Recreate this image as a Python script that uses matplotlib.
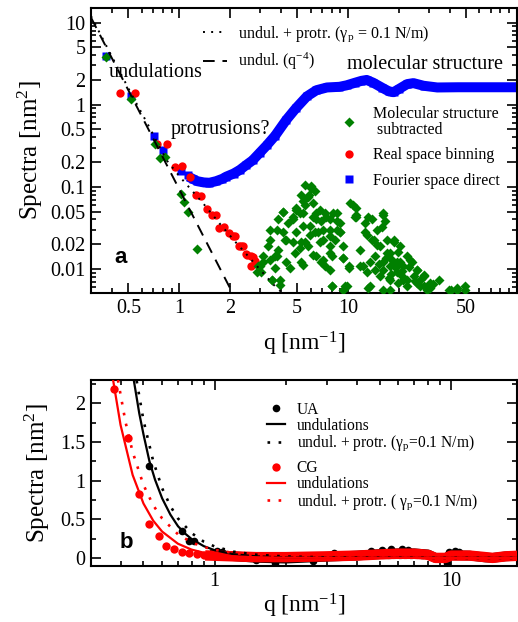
import matplotlib
matplotlib.use('Agg')
import matplotlib.pyplot as plt
from matplotlib.ticker import FixedLocator, NullFormatter, FixedFormatter
from matplotlib.lines import Line2D

plt.rcParams['font.family'] = ['Liberation Serif', 'DejaVu Serif']
plt.rcParams['mathtext.fontset'] = 'custom'
plt.rcParams['mathtext.rm'] = 'Liberation Serif'
plt.rcParams['mathtext.it'] = 'Liberation Serif:italic'
plt.rcParams['mathtext.bf'] = 'Liberation Serif:bold'

# ---------------- panel a data ----------------
# Fourier space direct (blue squares)
fourier_q = [0.37, 0.52, 0.71, 0.80, 1.02, 1.12, 1.2, 1.28, 1.4, 1.51, 1.65, 1.8, 1.9,
             2.1, 2.28, 2.5, 2.72, 3.0, 3.3, 3.7, 4.3, 4.9, 5.7, 6.5, 7.5, 8.9, 9.8,
             11.0, 12.0, 12.9, 14.1, 16.0, 17.5, 18.6, 20.0, 22.4, 24.4, 28.0, 33.8,
             45.0, 60.0, 80.0, 100.0]
fourier_s = [3.9, 1.26, 0.41, 0.28, 0.154, 0.14, 0.125, 0.117, 0.113, 0.112, 0.117,
             0.125, 0.133, 0.145, 0.16, 0.185, 0.21, 0.26, 0.32, 0.42, 0.65, 0.9, 1.26,
             1.5, 1.62, 1.65, 1.72, 1.85, 1.95, 2.0, 1.85, 1.6, 1.45, 1.42, 1.55, 1.78,
             1.83, 1.7, 1.62, 1.63, 1.63, 1.63, 1.63]

# real space binning (red circles)
binning_q = [0.446, 0.547, 0.743, 0.845, 0.946, 1.04, 1.15, 1.26, 1.35, 1.46, 1.56,
             1.65, 1.73, 1.85, 1.98, 2.08, 2.13, 2.25, 2.33, 2.38, 2.49, 2.52, 2.67,
             2.73, 2.8, 2.67]
binning_s = [1.38, 1.4, 0.334, 0.334, 0.174, 0.18, 0.13, 0.080, 0.077, 0.054, 0.046,
             0.045, 0.0316, 0.032, 0.0274, 0.025, 0.0254, 0.0192, 0.019, 0.019, 0.015,
             0.0149, 0.0145, 0.014, 0.0124, 0.0108]

# molecular structure subtracted (green diamonds)
subtr_q = [0.37, 0.52, 0.717, 0.77, 0.82, 1.02, 1.07, 1.12, 1.27, 2.9,
           5.55, 6.05, 5.9, 5.4, 6.36, 4.95, 5.18, 4.12, 4.72, 5.4, 6.2, 6.5, 6.95, 7.45,
           8.2, 8.55, 7.8, 6.65, 7.1, 5.95, 5.55, 5.18, 4.84, 4.3, 4.12, 3.77, 3.43, 3.35,
           3.68, 3.13, 2.99, 4.3, 5.3, 6.5, 7.8, 8.37, 8.96, 6.95, 7.8, 9.4, 10.3, 11.2,
           11.2, 13.2, 12.6, 13.8, 14.8, 16.2, 16.6, 15.5, 17.0, 18.2, 19.5, 21.3, 23.4,
           25.7, 28.0, 30.8, 17.8, 19.5, 21.3, 22.4, 24.5, 26.8, 18.6, 20.4, 14.5, 12.9,
           11.8, 13.5, 9.8, 8.0, 40.5, 44.0, 49.5, 29.5, 16.2, 9.4, 3.52, 3.94, 16.2, 17.8,
           11.0, 12.6, 13.8, 12.9, 15.8, 16.2, 14.2, 14.8, 17.0, 18.6, 17.8, 19.9, 11.8,
           12.3, 13.5, 14.5, 16.2, 18.6, 20.4, 22.4, 24.0, 25.7, 28.0, 34.5, 15.5, 17.4,
           19.9, 22.4, 25.7, 28.0, 30.8, 9.4, 10.1, 8.96, 8.96, 13.2, 17.8, 39.5, 44.0,
           49.5,
           6.05, 5.8, 5.3, 5.55, 6.2, 4.95, 4.72, 5.4, 4.12, 3.86, 4.4, 6.81, 7.3, 7.8,
           8.55, 6.5, 5.94, 6.36, 7.1, 7.8, 8.55, 4.95, 4.72, 5.3, 5.8, 6.81, 7.8, 6.2,
           7.1, 8.0, 9.4, 4.22, 3.43, 3.86, 3.77, 3.43, 3.13, 4.52, 3.68, 2.92, 3.06,
           3.52, 3.94, 5.4, 7.3, 10.1, 8.0, 9.6, 10.7, 11.2,
           16.8, 19.2, 21.0, 23.0, 15.2, 18.0, 20.8, 24.8, 27.0, 32.0]
subtr_s = [3.8, 1.17, 0.334, 0.226, 0.23, 0.082, 0.066, 0.05, 0.0175, 0.0093,
           0.106, 0.097, 0.080, 0.067, 0.088, 0.055, 0.048, 0.050, 0.040, 0.033, 0.043,
           0.048, 0.038, 0.043, 0.048, 0.038, 0.030, 0.028, 0.0227, 0.026, 0.0215, 0.018,
           0.0155, 0.0227, 0.028, 0.030, 0.030, 0.019, 0.0142, 0.0142, 0.011, 0.012,
           0.012, 0.0142, 0.0155, 0.0227, 0.028, 0.012, 0.0098, 0.019, 0.063, 0.055,
           0.043, 0.043, 0.028, 0.0227, 0.030, 0.048, 0.038, 0.019, 0.0155, 0.0129,
           0.012, 0.011, 0.0129, 0.0098, 0.0082, 0.0068, 0.011, 0.0092, 0.0074, 0.0062,
           0.0082, 0.0062, 0.0227, 0.019, 0.0142, 0.0092, 0.011, 0.0062, 0.0062, 0.0062,
           0.0056, 0.0058, 0.0062, 0.0056, 0.0056, 0.0056, 0.0074, 0.0064, 0.0098, 0.0074,
           0.043, 0.036, 0.041, 0.026, 0.032, 0.046, 0.0227, 0.0197, 0.0227, 0.021,
           0.0155, 0.016, 0.0171, 0.011, 0.012, 0.0098, 0.0122, 0.011, 0.0122, 0.0142,
           0.012, 0.0098, 0.0085, 0.0074, 0.0082, 0.0078, 0.0068, 0.0074, 0.0068, 0.0062,
           0.0058, 0.0135, 0.0104, 0.036, 0.028, 0.0058, 0.0056, 0.0056, 0.0056, 0.0056,
           0.101, 0.076, 0.080, 0.0605, 0.063, 0.0526, 0.043, 0.048, 0.050, 0.040, 0.036,
           0.0526, 0.048, 0.040, 0.048, 0.040, 0.033, 0.028, 0.030, 0.025, 0.030, 0.028,
           0.0215, 0.021, 0.019, 0.0215, 0.019, 0.0149, 0.0129, 0.0142, 0.0135, 0.0227,
           0.0227, 0.0171, 0.0142, 0.0129, 0.0122, 0.0104, 0.0104, 0.011, 0.0092, 0.0074,
           0.0074, 0.0113, 0.011, 0.011, 0.0062, 0.0062, 0.0605, 0.046,
           0.0135, 0.0105, 0.0095, 0.0105, 0.0115, 0.0088, 0.0082, 0.0072, 0.0075, 0.0065]

# theory lines, panel a
protr_q = [0.3, 0.4, 0.525, 0.65, 0.837, 1.0, 1.2, 1.38, 1.73, 2.17, 2.6, 3.0, 3.6, 4.0]
protr_s = [12.0, 3.8, 1.3, 0.58, 0.214, 0.135, 0.088, 0.0635, 0.036, 0.0209, 0.0138,
           0.0099, 0.0065, 0.0053]
undul_q = [0.3, 2.1]
undul_s = [11.5, 0.0048]

# ---------------- panel b data ----------------
ua_q = [0.529, 0.725, 0.778, 0.822, 1.02, 1.08, 1.8, 4.6, 5.1, 5.6, 6.2, 6.6, 9.8, 10.4,
        10.8, 19.0, 1.5, 9.6, 3.2, 2.6]
ua_s = [1.19, 0.346, 0.22, 0.22, 0.087, 0.078, -0.06, 0.085, 0.1, 0.11, 0.12, 0.1, 0.08,
        0.09, 0.08, 0.05, -0.03, -0.07, 0.06, -0.04]
ua_band_q = [1.0, 1.5, 2.0, 3.0, 4.0, 5.0, 6.0, 7.0, 8.0, 8.6, 9.5, 10.0, 12.0, 14.0,
             15.0, 17.0, 20.0]
ua_band_s = [0.04, 0.0, -0.01, 0.015, 0.03, 0.05, 0.06, 0.06, 0.045, 0.0, 0.0, 0.035,
             0.03, 0.005, 0.0, 0.02, 0.03]

cg_q = [0.377, 0.429, 0.477, 0.529, 0.582, 0.625, 0.673, 0.73, 0.778, 0.844, 0.9, 0.96]
cg_s = [2.19, 1.55, 0.83, 0.44, 0.28, 0.15, 0.11, 0.078, 0.057, 0.048, 0.035, 0.035]
cg_band_q = [0.96, 1.2, 1.5, 2.0, 3.0, 4.0, 5.0, 6.0, 7.0, 8.0, 8.6, 9.5, 10.0, 12.0,
             14.0, 15.0, 17.0, 20.0]
cg_band_s = [0.03, 0.02, 0.01, 0.01, 0.02, 0.03, 0.045, 0.055, 0.055, 0.04, 0.0, 0.0,
             0.03, 0.03, 0.01, 0.0, 0.02, 0.03]

ua_und_q = [0.455, 0.48, 0.5, 0.53, 0.56, 0.6, 0.65, 0.7, 0.75, 0.8, 0.9, 1.0, 1.2, 1.5,
            2.0, 3.0, 5.0, 10.0, 20.0]
ua_und_s = [2.3, 1.87, 1.6, 1.25, 1.01, 0.77, 0.56, 0.41, 0.315, 0.243, 0.152, 0.1,
            0.048, 0.02, 0.006, 0.0012, 0.0002, 0.0, 0.0]
ua_pro_q = [0.468, 0.5, 0.55, 0.6, 0.65, 0.7, 0.8, 0.9, 1.0, 1.2, 1.5, 2.0, 3.0, 5.0,
            10.0, 20.0]
ua_pro_s = [2.29, 1.78, 1.25, 0.90, 0.67, 0.51, 0.32, 0.21, 0.148, 0.081, 0.041, 0.018,
            0.0065, 0.002, 0.0005, 0.0001]
cg_und_q = [0.372, 0.4, 0.45, 0.5, 0.55, 0.6, 0.7, 0.8, 0.9, 1.0, 1.2, 1.5, 2.0, 3.0,
            5.0, 10.0, 20.0]
cg_und_s = [2.3, 1.72, 1.073, 0.704, 0.481, 0.34, 0.183, 0.107, 0.067, 0.044, 0.0212,
            0.0087, 0.0028, 0.0005, 0.0, 0.0, 0.0]
cg_pro_q = [0.39, 0.42, 0.45, 0.5, 0.55, 0.6, 0.7, 0.8, 0.9, 1.0, 1.2, 1.5, 2.0, 3.0,
            5.0, 10.0, 20.0]
cg_pro_s = [2.3, 1.755, 1.37, 0.944, 0.68, 0.51, 0.305, 0.20, 0.141, 0.104, 0.063,
            0.035, 0.018, 0.007, 0.0024, 0.0006, 0.0002]

GREEN = '#008000'
DOT = (0, (1, 3.2))

fig = plt.figure(figsize=(5.18, 6.22), dpi=100)
ax1 = fig.add_axes([0.1757, 0.529, 0.822, 0.458])
ax2 = fig.add_axes([0.1757, 0.090, 0.822, 0.299])

# ---------------- panel a ----------------
ax1.plot(fourier_q[6:], fourier_s[6:], '-', color='blue', lw=7.2,
         solid_joinstyle='round', zorder=2)
ax1.plot(fourier_q, fourier_s, 's', color='blue', ms=5.8, mec='none', zorder=2)
ax1.plot(binning_q, binning_s, 'o', color='red', ms=6.0, mec='none', zorder=3)
ax1.plot(subtr_q, subtr_s, 'D', color=GREEN, ms=5.0, mec='none', zorder=4)
ax1.plot(protr_q, protr_s, color='black', lw=1.4, ls=DOT, zorder=5)
ax1.plot(undul_q, undul_s, color='black', lw=1.4, ls=(0, (6, 4)), zorder=5)

ax1.set_xscale('log')
ax1.set_yscale('log')
ax1.set_xlim(0.3, 100)
ax1.set_ylim(0.0051, 15)

ax1.xaxis.set_major_locator(FixedLocator([0.5, 1, 2, 5, 10, 50]))
ax1.xaxis.set_major_formatter(FixedFormatter(['0.5', '1', '2', '5', '10', '50']))
xminor = [0.3, 0.4, 0.6, 0.7, 0.8, 0.9, 3, 4, 6, 7, 8, 9, 20, 30, 40, 60, 70, 80, 90]
ax1.xaxis.set_minor_locator(FixedLocator(xminor))
ax1.xaxis.set_minor_formatter(NullFormatter())
ymaj = [0.01, 0.02, 0.05, 0.1, 0.2, 0.5, 1, 2, 5, 10]
ax1.yaxis.set_major_locator(FixedLocator(ymaj))
ax1.yaxis.set_major_formatter(FixedFormatter(['0.01', '0.02', '0.05', '0.1', '0.2',
                                              '0.5', '1', '2', '5', '10']))
yminor = [0.006, 0.007, 0.008, 0.009, 0.03, 0.04, 0.06, 0.07, 0.08, 0.09, 0.3, 0.4,
          0.6, 0.7, 0.8, 0.9, 3, 4, 6, 7, 8, 9]
ax1.yaxis.set_minor_locator(FixedLocator(yminor))
ax1.yaxis.set_minor_formatter(NullFormatter())

ax1.set_xlabel('q [nm$^{-1}$]', fontsize=17, labelpad=9)
ax1.set_ylabel('Spectra [nm$^2$]', fontsize=18, labelpad=4)

ax1.text(0.383, 2.44, 'undulations', fontsize=14.5, va='center', ha='left', zorder=6)
ax1.text(0.884, 0.495, 'protrusions?', fontsize=14.5, va='center', ha='left', zorder=6)
ax1.text(28.7, 3.06, 'molecular structure', fontsize=14.5, va='center', ha='center',
         zorder=6)
ax1.text(0.056, 0.123, 'a', transform=ax1.transAxes, fontsize=16, fontweight='bold',
         family='Liberation Sans', va='center', ha='left')

h_protr = Line2D([], [], color='black', lw=1.4, ls=DOT)
h_undul = Line2D([], [], color='black', lw=1.4, ls=(0, (6, 4)))
leg1 = ax1.legend([h_protr, h_undul],
                  ['undul. + protr. (γ$_\\mathregular{p}$ = 0.1 N/m)',
                   'undul. (q$^{-4}$)'],
                  loc='upper left', bbox_to_anchor=(0.263, 0.944), frameon=False,
                  fontsize=11.5, handlelength=1.5, handletextpad=0.7,
                  labelspacing=0.45, borderpad=0, borderaxespad=0)
ax1.add_artist(leg1)

h_sub = Line2D([], [], color=GREEN, marker='D', ms=5.0, ls='none', mec='none')
h_bin = Line2D([], [], color='red', marker='o', ms=6.0, ls='none', mec='none')
h_fou = Line2D([], [], color='blue', marker='s', ms=5.8, ls='none', mec='none')
leg2 = ax1.legend([h_sub, h_bin, h_fou],
                  ['Molecular structure\n subtracted', 'Real space binning',
                   'Fourier space direct'],
                  loc='upper left', bbox_to_anchor=(0.587, 0.655), frameon=False,
                  fontsize=11.5, handlelength=1.0, handletextpad=1.0,
                  labelspacing=0.6, borderpad=0, borderaxespad=0)
leg2.get_texts()[0].set_linespacing(0.95)

# ---------------- panel b ----------------
ax2.plot(ua_band_q, ua_band_s, '-', color='black', lw=7.0, solid_joinstyle='round',
         zorder=2)
ax2.plot(ua_q, ua_s, 'o', color='black', ms=5.5, mec='none', zorder=2)
ax2.plot(cg_band_q, cg_band_s, '-', color='red', lw=7.5, solid_joinstyle='round',
         zorder=3)
ax2.plot(cg_q, cg_s, 'o', color='red', ms=6.0, mec='none', zorder=3)
ax2.plot(ua_und_q, ua_und_s, '-', color='black', lw=1.6, zorder=4)
ax2.plot(ua_pro_q, ua_pro_s, color='black', lw=1.9, ls=DOT, zorder=4)
ax2.plot(cg_und_q, cg_und_s, '-', color='red', lw=1.6, zorder=4)
ax2.plot(cg_pro_q, cg_pro_s, color='red', lw=1.9, ls=DOT, zorder=4)

ax2.set_xscale('log')
ax2.set_xlim(0.3, 19)
ax2.set_ylim(-0.105, 2.3)
ax2.xaxis.set_major_locator(FixedLocator([1, 10]))
ax2.xaxis.set_major_formatter(FixedFormatter(['1', '10']))
ax2.xaxis.set_minor_locator(FixedLocator([0.3, 0.4, 0.5, 0.6, 0.7, 0.8, 0.9, 2, 3, 4,
                                          5, 6, 7, 8, 9]))
ax2.xaxis.set_minor_formatter(NullFormatter())
ax2.yaxis.set_major_locator(FixedLocator([0, 0.5, 1, 1.5, 2]))
ax2.yaxis.set_major_formatter(FixedFormatter(['0', '0.5', '1', '1.5', '2']))
ax2.yaxis.set_minor_locator(FixedLocator([0.25, 0.75, 1.25, 1.75, 2.25]))
ax2.yaxis.set_minor_formatter(NullFormatter())
ax2.set_xlabel('q [nm$^{-1}$]', fontsize=17, labelpad=1)
ax2.set_ylabel('Spectra [nm$^2$]', fontsize=18, labelpad=6)
ax2.text(0.068, 0.129, 'b', transform=ax2.transAxes, fontsize=16, fontweight='bold',
         family='Liberation Sans', va='center', ha='left')

h_ua = Line2D([], [], color='black', marker='o', ms=5.5, ls='none', mec='none')
h_uau = Line2D([], [], color='black', lw=1.6)
h_uap = Line2D([], [], color='black', lw=1.9, ls=DOT)
leg3 = ax2.legend([h_ua, h_uau, h_uap],
                  ['UA', 'undulations', 'undul. + protr. (γ$_\\mathregular{p}$=0.1 N/m)'],
                  loc='upper left', bbox_to_anchor=(0.413, 0.883), frameon=False,
                  fontsize=11.2, handlelength=1.15, handletextpad=0.77,
                  labelspacing=0.0, borderpad=0, borderaxespad=0)
ax2.add_artist(leg3)
h_cg = Line2D([], [], color='red', marker='o', ms=6.0, ls='none', mec='none')
h_cgu = Line2D([], [], color='red', lw=1.6)
h_cgp = Line2D([], [], color='red', lw=1.9, ls=DOT)
ax2.legend([h_cg, h_cgu, h_cgp],
           ['CG', 'undulations', 'undul. + protr. ( γ$_\\mathregular{p}$=0.1 N/m)'],
           loc='upper left', bbox_to_anchor=(0.413, 0.568), frameon=False,
           fontsize=11.2, handlelength=1.15, handletextpad=0.77,
           labelspacing=0.0, borderpad=0, borderaxespad=0)

for ax in (ax1, ax2):
    for sp in ax.spines.values():
        sp.set_linewidth(1.5)
    ax.tick_params(which='both', direction='in', top=True, right=True, width=1.2,
                   labelsize=14.5, pad=4)
    ax.tick_params(which='major', length=7)
    ax.tick_params(which='minor', length=3.5)

fig.savefig('out.png', dpi=100)
